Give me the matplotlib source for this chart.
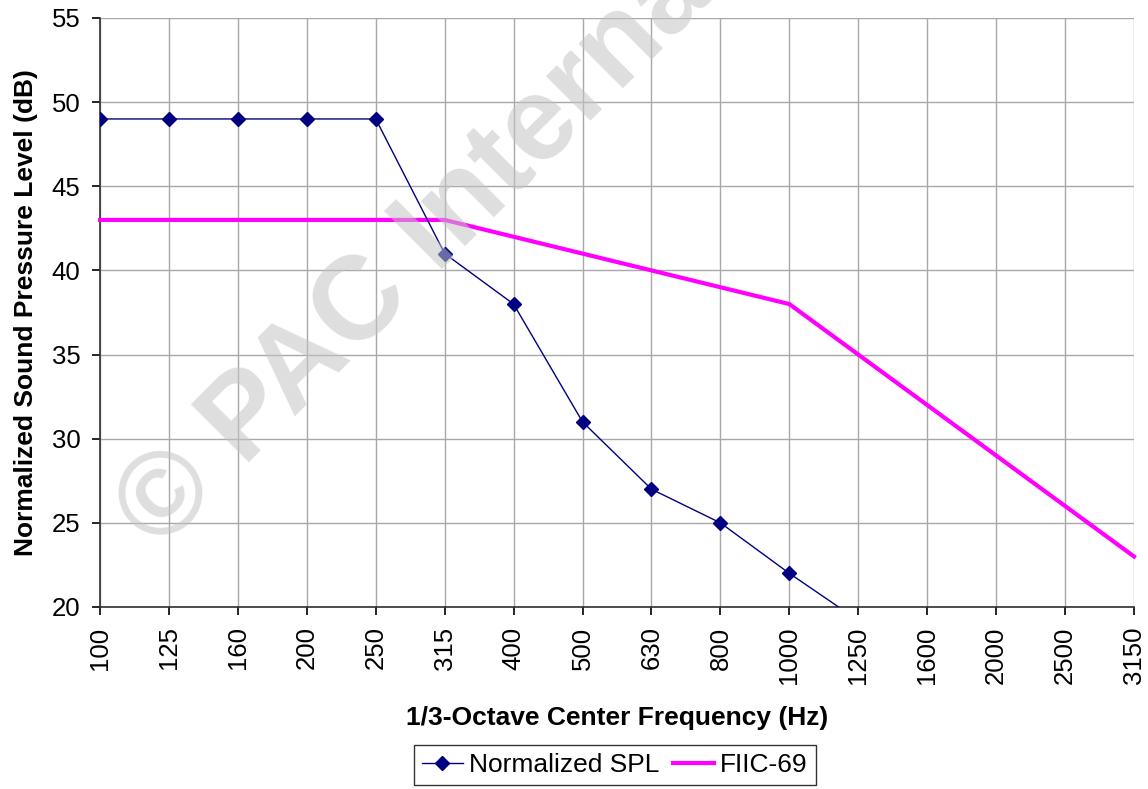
import numpy as np
import matplotlib.pyplot as plt
import matplotlib as mpl

mpl.rcParams['font.family'] = ['Liberation Sans', 'DejaVu Sans']

freqs = ["100", "125", "160", "200", "250", "315", "400", "500", "630",
         "800", "1000", "1250", "1600", "2000", "2500", "3150"]
spl = [49, 49, 49, 49, 49, 41, 38, 31, 27, 25, 22, 19.2]
fiic = [43, 43, 43, 43, 43, 43, 42, 41, 40, 39, 38, 35, 32, 29, 26, 23]

fig = plt.figure(figsize=(11.48, 7.89), dpi=100)
ax = fig.add_axes([0.0871, 0.2307, 0.9007, 0.7465])

x = np.arange(len(freqs))
ax.plot(x[:len(spl)], spl, color='#000080', linewidth=1.0, marker='D',
        markersize=7.5, label='Normalized SPL', zorder=4, clip_on=True)
ax.plot(x, fiic, color='#FF00FF', linewidth=3.0, label='FIIC-69', zorder=3,
        clip_on=False)

# watermark, sits on top of the data but semi transparent
ax.text(0.057, 0.093, "© PAC International", transform=ax.transAxes,
        rotation=45, rotation_mode='anchor', fontsize=85, fontweight='bold',
        color='#c4c4c4', alpha=0.55, ha='left', va='baseline', zorder=6,
        clip_on=False)

ax.set_xlim(0, len(freqs) - 1)
ax.set_ylim(20, 55)
ax.set_yticks(np.arange(20, 56, 5))
ax.set_xticks(x)
ax.set_xticklabels(freqs, rotation=90)
ax.grid(True, color='#a8a8a8', linewidth=1.0, zorder=0)
ax.set_axisbelow(True)
for s in ['top', 'right']:
    ax.spines[s].set_visible(False)
for s in ['left', 'bottom']:
    ax.spines[s].set_color('#303030')
    ax.spines[s].set_linewidth(1.2)
ax.tick_params(direction='out', length=6, width=1.2, labelsize=18.5, pad=8)

ax.set_xlabel('1/3-Octave Center Frequency (Hz)', fontsize=19,
              fontweight='bold', labelpad=16)
ax.set_ylabel('Normalized Sound Pressure Level (dB)', fontsize=19,
              fontweight='bold', labelpad=10)

leg = fig.legend(loc='lower center', bbox_to_anchor=(0.5355, -0.012), ncol=2,
                 fontsize=19, frameon=True, fancybox=False, handlelength=1.55,
                 columnspacing=0.5, handletextpad=0.25, borderpad=0.3)
leg.get_frame().set_edgecolor('black')
leg.get_frame().set_linewidth(1.0)

fig.savefig('out.png', dpi=100)
